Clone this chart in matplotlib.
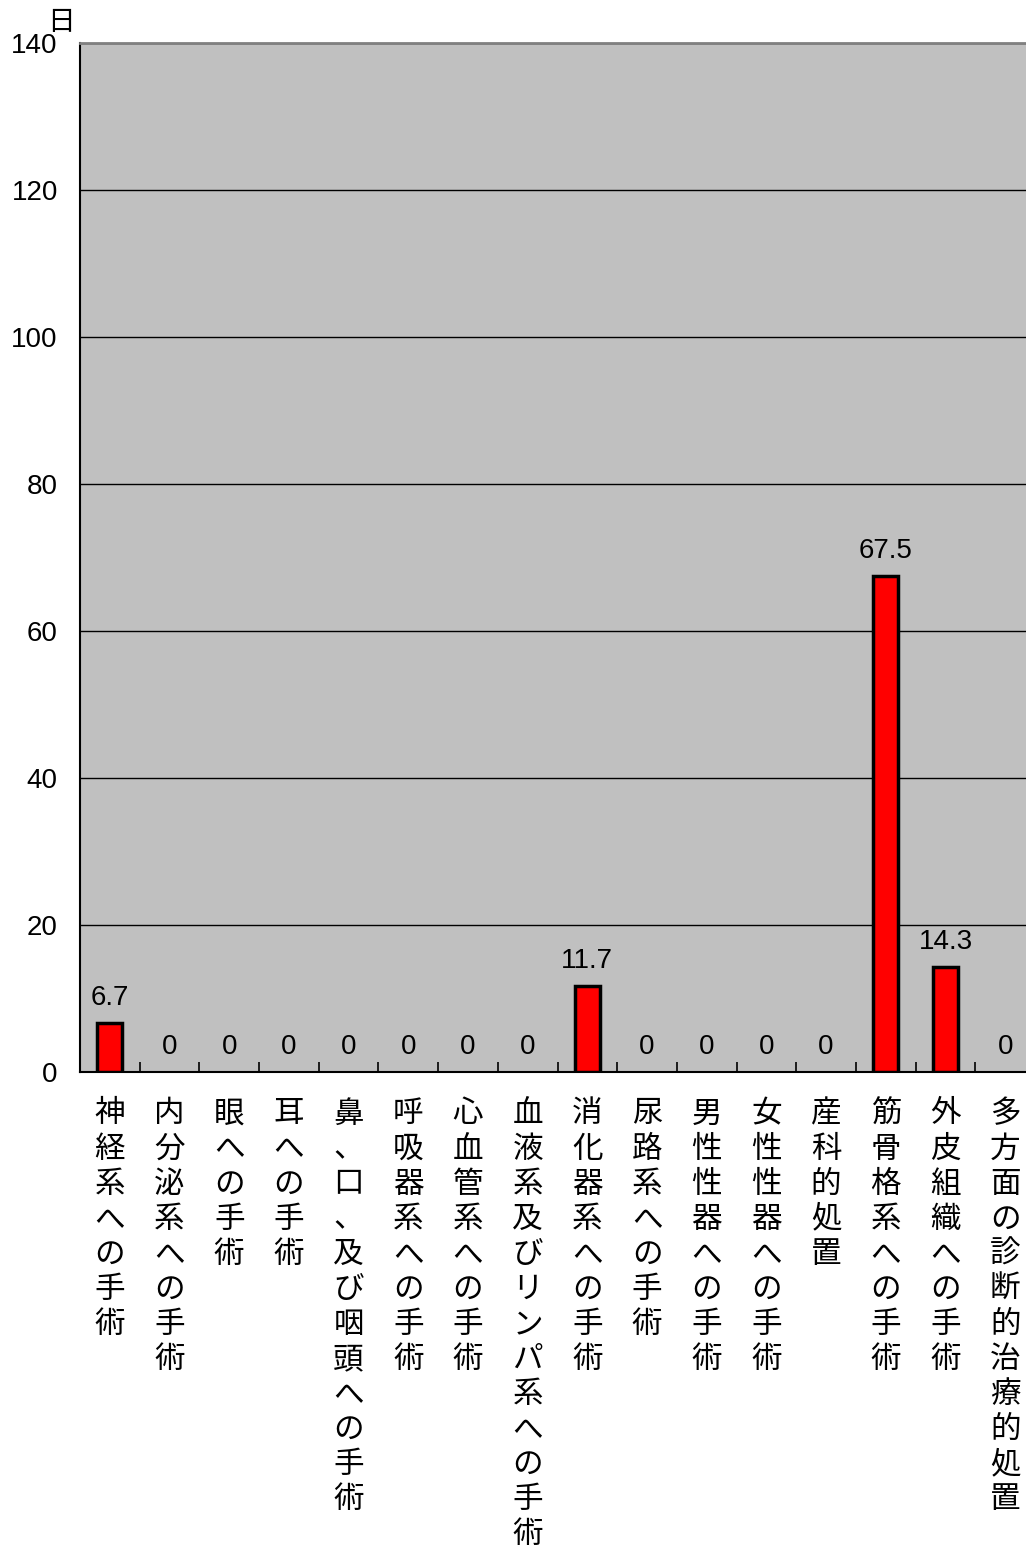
import matplotlib.pyplot as plt
import numpy as np

plt.rcParams['font.family'] = ['Noto Sans CJK JP', 'DejaVu Sans']

categories = ['神経系への手術', '内分泌系への手術', '眼への手術', '耳への手術',
              '鼻、口、及び咽頭への手術', '呼吸器系への手術', '心血管系への手術',
              '血液系及びリンパ系への手術', '消化器系への手術', '尿路系への手術',
              '男性性器への手術', '女性性器への手術', '産科的処置',
              '筋骨格系への手術', '外皮組織への手術', '多方面の診断的治療的処置']
values = [6.7, 0, 0, 0, 0, 0, 0, 0, 11.7, 0, 0, 0, 0, 67.5, 14.3, 0]
value_labels = ['6.7', '0', '0', '0', '0', '0', '0', '0', '11.7', '0', '0', '0', '0', '67.5', '14.3', '0']
yticks = [0, 20, 40, 60, 80, 100, 120, 140]

fig = plt.figure(figsize=(10.26, 15.52), dpi=100)
# plot area runs a little past the right edge of the image, as in the original
ax = fig.add_axes([80 / 1026, 1 - 1072 / 1552, 955 / 1026, (1072 - 43) / 1552])
ax.set_facecolor('#c0c0c0')

x = np.arange(len(categories))
# zero-height bars get no outline
edge_w = [2.5 if v > 0 else 0 for v in values]
ax.bar(x, values, width=0.42, color='#ff0000', edgecolor='black', linewidth=edge_w, zorder=3)

for xi, v, lab in zip(x, values, value_labels):
    ax.text(xi, v + 1.6, lab, ha='center', va='bottom', fontsize=20, family='Liberation Sans')

ax.set_xlim(-0.5, len(categories) - 0.5)
ax.set_ylim(0, 140)
ax.set_yticks(yticks)
ax.set_yticklabels([str(t) for t in yticks], fontsize=20, family='Liberation Sans')
ax.yaxis.grid(True, color='black', linewidth=1)
ax.set_axisbelow(True)
ax.tick_params(axis='y', direction='in', length=0, pad=16)

# ticks between categories
ax.set_xticks(np.arange(len(categories) + 1) - 0.5)
ax.set_xticklabels([])
ax.tick_params(axis='x', direction='in', length=7, width=1.2)
for xi, cat in zip(x, categories):
    ax.text(xi, -3.6, '\n'.join(cat), ha='center', va='top', fontsize=22,
            linespacing=1.17)

ax.spines['top'].set_color('#808080')
ax.spines['top'].set_linewidth(2)
ax.spines['right'].set_visible(False)
ax.spines['left'].set_linewidth(1.5)
ax.spines['bottom'].set_linewidth(1.5)

fig.text(61 / 1026, 1 - 22 / 1552, '日', ha='center', va='center', fontsize=20)

fig.savefig('out.png', dpi=100)
